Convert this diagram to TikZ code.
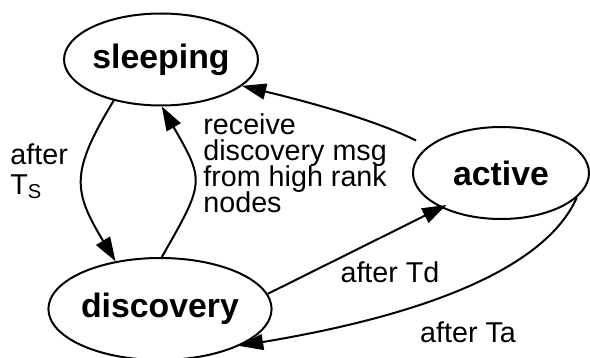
\documentclass[tikz,border=0pt]{standalone}
\usepackage{fontspec}
\setmainfont{Liberation Sans}
\usetikzlibrary{shapes.geometric,arrows.meta}
\setlength{\lineskiplimit}{-20pt}
\begin{document}
\begin{tikzpicture}[x=0.5pt,y=-0.5pt,
    state/.style={ellipse,draw,line width=1pt,inner sep=0pt,font=\fontsize{16.9}{20}\selectfont\bfseries},
    edge/.style={line width=1pt,-{Triangle[length=12pt,width=8pt]}},
    lbl/.style={inner sep=0pt,font=\fontsize{14.35}{13}\selectfont}]
    \useasboundingbox (0,0) rectangle (590,358);

    \node[state,minimum width=92pt,minimum height=46pt] (sleeping) at (161,59.5) {sleeping};
    \node[state,minimum width=88pt,minimum height=46pt] (active) at (501,173) {active};
    \node[state,minimum width=102pt,minimum height=51pt] (discovery) at (160,309) {discovery};

    \draw[edge] (sleeping.221) .. controls +(-43,71) and +(-43,-71) .. (discovery.133);
    \draw[edge] (discovery.88) .. controls +(43,-75) and +(43,75) .. (sleeping.271);
    \draw[edge,shorten <=6.5pt] (active.160) .. controls +(-60,-30) and +(45,11) .. (sleeping.342);
    \draw[edge,shorten >=-3pt] (discovery.8) -- (active.210);
    \draw[edge] (active.-18) .. controls +(-40,90) and +(120,-20) .. (discovery.-25);

    \node[lbl,anchor=north west,align=left] (ts) at (10,143.5) {after\\[2pt]T\textsubscript{S}};
    \node[lbl,anchor=north west,align=left] (rcv) at (203,113) {receive\\discovery msg\\from high rank\\nodes};
    \node[lbl,anchor=base] (td) at (390,283) {after Td};
    \node[lbl,anchor=base] (ta) at (468,343) {after Ta};
\end{tikzpicture}
\end{document}
